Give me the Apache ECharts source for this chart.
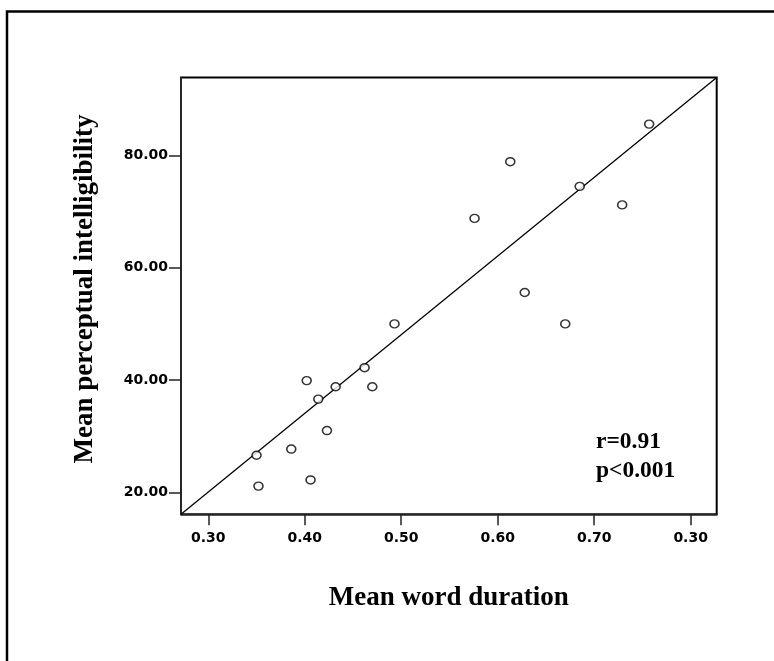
<!DOCTYPE html>
<html>
<head>
<meta charset="utf-8">
<script src="https://cdn.jsdelivr.net/npm/echarts@6/dist/echarts.min.js"></script>
<style>
html,body{margin:0;padding:0;background:#fff;}
#chart{width:774px;height:661px;}
</style>
</head>
<body>
<div id="chart"></div>
<script>
// Data
var durations = [0.350, 0.352, 0.386, 0.402, 0.406, 0.414, 0.423, 0.432, 0.462, 0.470, 0.493, 0.576, 0.613, 0.628, 0.670, 0.685, 0.729, 0.757];
var intelligibility = [26.6, 21.1, 27.7, 39.9, 22.2, 36.6, 31.0, 38.8, 42.2, 38.8, 50.0, 68.8, 78.9, 55.6, 50.0, 74.5, 71.2, 85.6];
var fitX = [0.2717, 0.827];
var fitY = [16.08, 93.9];
var xRange = [0.2717, 0.827];
var yRange = [16.08, 93.9];
var xTicks = [0.3, 0.4, 0.5, 0.6, 0.7, 0.8];
var xTickLabels = ['0.30', '0.40', '0.50', '0.60', '0.70', '0.30'];
var yTicks = [20, 40, 60, 80];
var yTickLabels = ['20.00', '40.00', '60.00', '80.00'];
var xTitle = 'Mean word duration';
var yTitle = 'Mean perceptual intelligibility';
var statLines = ['r=0.91', 'p<0.001'];

var points = durations.map(function (d, i) { return [d, intelligibility[i]]; });
var fitLine = fitX.map(function (d, i) { return [d, fitY[i]]; });

function labelFor(ticks, labels) {
  return function (v) {
    for (var i = 0; i < ticks.length; i++) {
      if (Math.abs(ticks[i] - v) < 1e-6) return labels[i];
    }
    return '';
  };
}

var chart = echarts.init(document.getElementById('chart'), null, {renderer: 'canvas'});
var tickFont = {fontFamily: 'DejaVu Sans', fontWeight: 'bold', fontSize: 14, color: '#000'};
var titleFont = {fontFamily: 'Liberation Serif', fontWeight: 'bold', fontSize: 27, color: '#000'};

chart.setOption({
  animation: false,
  backgroundColor: '#fff',
  grid: {
    left: 181, top: 77.5, right: 57.3, bottom: 146.7,
    show: true, borderColor: '#000', borderWidth: 2, backgroundColor: 'transparent'
  },
  xAxis: {
    type: 'value',
    min: xRange[0], max: xRange[1],
    name: xTitle,
    nameLocation: 'middle',
    nameGap: 70,
    nameTextStyle: titleFont,
    splitLine: {show: false},
    axisLine: {show: true, onZero: false, lineStyle: {color: '#333', width: 1.5}},
    axisTick: {show: true, length: 11, lineStyle: {color: '#222', width: 1.5}, customValues: xTicks},
    axisLabel: Object.assign({margin: 17, customValues: xTicks, formatter: labelFor(xTicks, xTickLabels)}, tickFont)
  },
  yAxis: {
    type: 'value',
    min: yRange[0], max: yRange[1],
    name: yTitle,
    nameLocation: 'middle',
    nameGap: 82,
    nameRotate: 90,
    nameTextStyle: Object.assign({padding: [0, 0, 0, 14]}, titleFont),
    splitLine: {show: false},
    axisLine: {show: true, onZero: false, lineStyle: {color: '#333', width: 1.5}},
    axisTick: {show: true, length: 12, lineStyle: {color: '#222', width: 1.5}, customValues: yTicks},
    axisLabel: Object.assign({margin: 13, customValues: yTicks, formatter: labelFor(yTicks, yTickLabels)}, tickFont)
  },
  series: [
    {
      type: 'line',
      data: fitLine,
      symbol: 'none',
      lineStyle: {color: '#000', width: 1.3},
      silent: true,
      z: 2
    },
    {
      type: 'scatter',
      data: points,
      symbol: 'circle',
      symbolSize: [9, 8],
      itemStyle: {color: '#fff', borderColor: '#000', borderWidth: 1.5},
      z: 3
    }
  ],
  graphic: [
    {
      type: 'rect',
      shape: {x: 7, y: 11.5, width: 900, height: 800},
      style: {fill: 'none', stroke: '#000', lineWidth: 2.5},
      silent: true
    },
    {
      type: 'text',
      left: 596, top: 427,
      style: {
        text: statLines.join('\n'),
        font: 'bold 23.5px "Liberation Serif"',
        fill: '#000',
        lineHeight: 29
      }
    }
  ]
});
</script>
</body>
</html>
